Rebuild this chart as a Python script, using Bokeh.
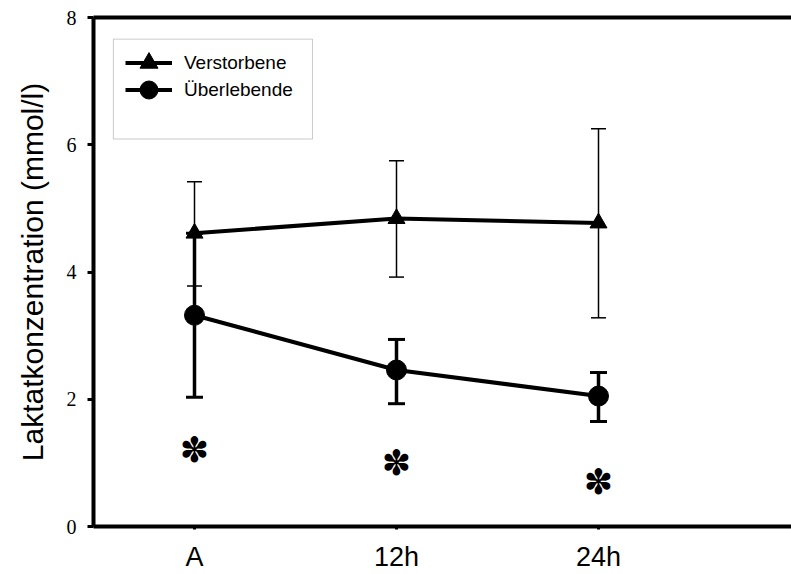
from bokeh.plotting import figure
from bokeh.models import Range1d, FixedTicker, BoxAnnotation, Legend, LegendItem, LinearAxis
from bokeh.core.properties import value
from bokeh.embed import file_html
from bokeh.resources import INLINE

# ---- data ----
timepoints = ["A", "12h", "24h"]
x_pos = [1, 2, 3]
verst_mean = [4.61, 4.84, 4.77]
verst_upper = [5.42, 5.75, 6.25]
verst_lower = [3.78, 3.92, 3.28]
ueber_mean = [3.32, 2.46, 2.05]
ueber_upper = [4.61, 2.94, 2.42]
ueber_lower = [2.03, 1.93, 1.65]
sig_y = [1.2, 1.0, 0.7]
sig_mark = ["\u273d", "\u273d", "\u273d"]
y_ticks = [0, 2, 4, 6, 8]

W, H = 791, 574
LEFT = 93
FRAME_W = W - LEFT
p = figure(width=W, height=H, output_backend="svg", toolbar_location=None,
           x_range=Range1d(0.5, 0.5 + FRAME_W / 202), y_range=Range1d(0, 8),
           min_border_left=LEFT, min_border_right=0, min_border_top=17, min_border_bottom=47)
p.xgrid.visible = False
p.ygrid.visible = False
p.outline_line_color = None
p.background_fill_color = "white"
p.border_fill_color = "white"

# y axis
p.yaxis.ticker = FixedTicker(ticks=y_ticks, minor_ticks=[])
p.yaxis.axis_line_width = 4
p.yaxis.axis_line_color = "black"
p.yaxis.major_tick_out = 6
p.yaxis.major_tick_in = 0
p.yaxis.major_tick_line_width = 3
p.yaxis.minor_tick_line_color = None
p.yaxis.major_label_text_font = "Liberation Serif"
p.yaxis.major_label_text_font_size = "20px"
p.yaxis.major_label_text_color = "black"
p.yaxis.major_label_standoff = 11
p.yaxis.axis_label = "Laktatkonzentration (mmol/l)"
p.yaxis.axis_label_text_font = "Liberation Sans"
p.yaxis.axis_label_text_font_size = "30px"
p.yaxis.axis_label_text_font_style = "normal"
p.yaxis.axis_label_text_color = "black"
p.yaxis.axis_label_standoff = 15

# x axis
p.xaxis.ticker = FixedTicker(ticks=x_pos, minor_ticks=[])
p.xaxis.major_label_overrides = {k: v for k, v in zip(x_pos, timepoints)}
p.xaxis.axis_line_width = 4
p.xaxis.axis_line_color = "black"
p.xaxis.major_tick_out = 3
p.xaxis.major_tick_in = 0
p.xaxis.major_tick_line_width = 3
p.xaxis.minor_tick_line_color = None
p.xaxis.major_label_text_font = "Liberation Sans"
p.xaxis.major_label_text_font_size = "27px"
p.xaxis.major_label_text_color = "black"
p.xaxis.major_label_standoff = 12

# top border line as a bare axis
top_axis = LinearAxis(ticker=FixedTicker(ticks=[], minor_ticks=[]), axis_line_width=4,
                      axis_line_color="black", major_tick_out=0, major_tick_in=0,
                      minor_tick_out=0, minor_tick_in=0, major_label_standoff=0,
                      major_label_text_font_size="0px")
p.add_layout(top_axis, "above")

# error bars
p.segment(x0=x_pos, y0=verst_lower, x1=x_pos, y1=verst_upper, line_color="black", line_width=1.5)
p.scatter(x=x_pos + x_pos, y=verst_lower + verst_upper, marker="dash", size=15,
          line_color="black", line_width=1.5)
p.segment(x0=x_pos, y0=ueber_lower, x1=x_pos, y1=ueber_upper, line_color="black", line_width=3.5)
p.scatter(x=x_pos + x_pos, y=ueber_lower + ueber_upper, marker="dash", size=17,
          line_color="black", line_width=3)

# series
l1 = p.line(x_pos, verst_mean, line_color="black", line_width=4)
l2 = p.line(x_pos, ueber_mean, line_color="black", line_width=4)
m1 = p.scatter(x_pos, verst_mean, marker="triangle", size=17, fill_color="black", line_color="black")
m2 = p.scatter(x_pos, ueber_mean, marker="circle", size=20, fill_color="black", line_color="black")

# significance marks
p.text(x=x_pos, y=sig_y, text=sig_mark, text_font=value("DejaVu Sans"), text_font_size="35px",
       text_align="center", text_baseline="middle", text_color="black")

# legend box + legends (one per entry so rows sit 27px apart with large symbols)
box = BoxAnnotation(left=0.5985, right=1.584, bottom=6.09, top=7.66,
                    fill_color="white", fill_alpha=1.0, line_color="#505050", line_width=1)
p.add_layout(box)
common = dict(padding=0, margin=0, spacing=0, glyph_width=47, glyph_height=45, label_height=45,
              label_standoff=12, label_text_font="Liberation Sans", label_text_font_size="19px",
              label_text_color="black", border_line_color=None, background_fill_alpha=0)
leg1 = Legend(items=[LegendItem(label="Verstorbene", renderers=[l1, m1])],
              location=(32, 441), **common)
leg2 = Legend(items=[LegendItem(label="Überlebende", renderers=[l2, m2])],
              location=(32, 414), **common)
p.add_layout(leg1)
p.add_layout(leg2)

open("out.html", "w").write(file_html(p, INLINE))
